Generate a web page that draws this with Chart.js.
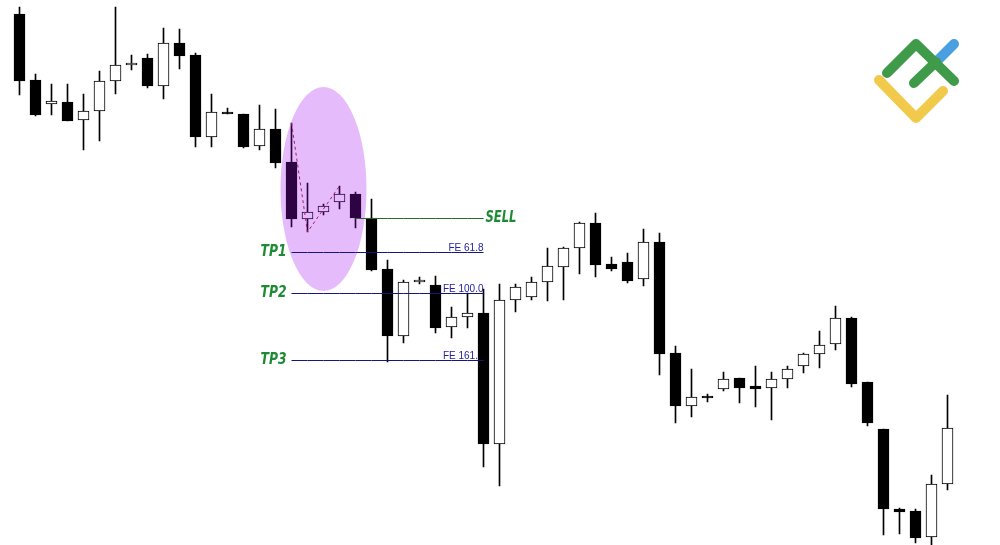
<!DOCTYPE html>
<html>
<head>
<meta charset="utf-8">
<script src="https://cdn.jsdelivr.net/npm/chart.js@4"></script>
<style>
  html, body { margin: 0; padding: 0; background: #fff; }
  #wrap { width: 1000px; height: 545px; position: relative; }
</style>
</head>
<body>
<div id="wrap"><canvas id="chart"></canvas></div>
<script>
// candle prices
const opens = [1.0986, 1.0920, 1.0896, 1.0898, 1.0880, 1.0889, 1.0919, 1.0935, 1.0942, 1.0914,
    1.0957, 1.0945, 1.0863, 1.0888, 1.0886, 1.0854, 1.0871, 1.0838, 1.0781, 1.0788,
    1.0798, 1.0806, 1.0782, 1.0731, 1.0664, 1.0718, 1.0715, 1.0673, 1.0683, 1.0687,
    1.0556, 1.0700, 1.0703, 1.0718, 1.0733, 1.0752, 1.0777, 1.0736, 1.0738, 1.0721,
    1.0758, 1.0647, 1.0594, 1.0604, 1.0611, 1.0622, 1.0614, 1.0612, 1.0621, 1.0634,
    1.0646, 1.0656, 1.0682, 1.0618, 1.0571, 1.0491, 1.0489, 1.0463, 1.0516];
const highs = [1.0993, 1.0926, 1.0916, 1.0916, 1.0906, 1.0929, 1.0993, 1.0945, 1.0946, 1.0972,
    1.0971, 1.0947, 1.0906, 1.0892, 1.0886, 1.0895, 1.0891, 1.0877, 1.0817, 1.0796,
    1.0814, 1.0808, 1.0801, 1.0740, 1.0720, 1.0723, 1.0724, 1.0693, 1.0707, 1.0711,
    1.0716, 1.0716, 1.0723, 1.0752, 1.0753, 1.0778, 1.0787, 1.0743, 1.0747, 1.0771,
    1.0767, 1.0654, 1.0631, 1.0606, 1.0628, 1.0622, 1.0634, 1.0628, 1.0634, 1.0647,
    1.0669, 1.0694, 1.0683, 1.0618, 1.0571, 1.0492, 1.0491, 1.0525, 1.0605];
const lows = [1.0905, 1.0884, 1.0885, 1.0879, 1.0850, 1.0859, 1.0906, 1.0930, 1.0912, 1.0901,
    1.0931, 1.0853, 1.0853, 1.0886, 1.0852, 1.0850, 1.0832, 1.0773, 1.0768, 1.0785,
    1.0791, 1.0772, 1.0729, 1.0638, 1.0657, 1.0716, 1.0667, 1.0662, 1.0672, 1.0533,
    1.0514, 1.0688, 1.0700, 1.0699, 1.0700, 1.0726, 1.0723, 1.0729, 1.0717, 1.0714,
    1.0625, 1.0577, 1.0583, 1.0598, 1.0609, 1.0597, 1.0593, 1.0580, 1.0612, 1.0627,
    1.0632, 1.0650, 1.0613, 1.0574, 1.0465, 1.0466, 1.0457, 1.0455, 1.0510];
const closes = [1.0919, 1.0885, 1.0899, 1.0879, 1.0889, 1.0919, 1.0935, 1.0937, 1.0914, 1.0957,
    1.0944, 1.0863, 1.0888, 1.0886, 1.0853, 1.0871, 1.0837, 1.0781, 1.0788, 1.0794,
    1.0806, 1.0782, 1.0730, 1.0664, 1.0718, 1.0720, 1.0672, 1.0683, 1.0687, 1.0556,
    1.0700, 1.0713, 1.0718, 1.0734, 1.0752, 1.0777, 1.0735, 1.0731, 1.0719, 1.0758,
    1.0646, 1.0594, 1.0603, 1.0602, 1.0621, 1.0612, 1.0611, 1.0621, 1.0631, 1.0646,
    1.0655, 1.0682, 1.0616, 1.0577, 1.0491, 1.0488, 1.0462, 1.0516, 1.0572];

// trade levels
const sellLevel = 1.07815;
const targetLevels = [1.07475, 1.07065, 1.06395];
const targetNames = ['TP1', 'TP2', 'TP3'];
const feNames = ['FE 61.8', 'FE 100.0', 'FE 161.8'];
const sellFrom = 21, levelsFrom = 17, levelsTo = 29;

// wave drawn as a dashed line
const waveIdx = [17, 18, 20];
const waveVals = [1.0877, 1.0768, 1.0814];

// highlighted pattern
const highlightIdx = 19;
const highlightLevel = 1.0811;

const labels = opens.map((_, i) => i);

function levelLine(value, from, to) {
    return labels.map(i => (i >= from && i <= to) ? value : null);
}

const waveData = labels.map(() => null);
waveIdx.forEach((idx, k) => waveData[idx] = waveVals[k]);

const overlay = {
    id: 'overlay',
    beforeDatasetsDraw(chart) {
        const ctx = chart.ctx;
        const x = chart.scales.x, y = chart.scales.y;
        ctx.save();
        ctx.fillStyle = '#2323a0';
        ctx.font = '10px "Liberation Sans", Arial, sans-serif';
        ctx.textAlign = 'right';
        ctx.textBaseline = 'alphabetic';
        targetLevels.forEach((v, i) => {
            ctx.fillText(feNames[i], x.getPixelForValue(levelsTo), y.getPixelForValue(v) - 2);
        });
        ctx.restore();
    },
    afterDatasetDraw(chart, args) {
        if (chart.data.datasets[args.index].label !== 'bodies') return;
        const ctx = chart.ctx;
        const cx = chart.scales.x.getPixelForValue(highlightIdx);
        const cy = chart.scales.y.getPixelForValue(highlightLevel);
        ctx.save();
        ctx.fillStyle = 'rgba(160, 10, 240, 0.28)';
        ctx.beginPath();
        ctx.ellipse(cx, cy, 43, 102, 0, 0, Math.PI * 2);
        ctx.fill();
        ctx.restore();
    },
    afterDatasetsDraw(chart) {
        const ctx = chart.ctx;
        const x = chart.scales.x, y = chart.scales.y;
        ctx.save();
        ctx.fillStyle = '#1f8a34';
        ctx.font = 'italic bold 15px "DejaVu Sans", sans-serif';
        ctx.textBaseline = 'middle';
        ctx.textAlign = 'left';
        ctx.fillText('SELL', x.getPixelForValue(levelsTo) + 2, y.getPixelForValue(sellLevel), 31);
        ctx.textAlign = 'right';
        targetLevels.forEach((v, i) => {
            ctx.fillText(targetNames[i], x.getPixelForValue(levelsFrom) - 5, y.getPixelForValue(v), 26);
        });

        // logo
        ctx.lineCap = 'round';
        ctx.lineJoin = 'round';
        ctx.lineWidth = 10;
        ctx.strokeStyle = '#f1c94b';
        ctx.beginPath();
        ctx.moveTo(879, 80); ctx.lineTo(916, 118); ctx.lineTo(943, 91);
        ctx.stroke();
        ctx.strokeStyle = '#4a9fe0';
        ctx.beginPath();
        ctx.moveTo(938, 60); ctx.lineTo(954, 44);
        ctx.stroke();
        ctx.strokeStyle = '#3f9a4a';
        ctx.beginPath();
        ctx.moveTo(887, 73); ctx.lineTo(916, 44); ctx.lineTo(954, 81);
        ctx.stroke();
        ctx.beginPath();
        ctx.moveTo(914, 83); ctx.lineTo(936, 62);
        ctx.stroke();
        ctx.restore();
    }
};

new Chart(document.getElementById('chart'), {
    type: 'bar',
    data: {
        labels: labels,
        datasets: [
            {
                label: 'wicks',
                data: lows.map((l, i) => [l, highs[i]]),
                backgroundColor: '#000',
                barThickness: 1,
                grouped: false,
                order: 6
            },
            {
                label: 'bodies',
                data: opens.map((o, i) => [o, closes[i]]),
                backgroundColor: opens.map((o, i) => closes[i] >= o ? '#fff' : '#000'),
                borderColor: '#000',
                borderWidth: 1,
                borderSkipped: false,
                barThickness: 11,
                grouped: false,
                order: 5
            },
            {
                type: 'line',
                label: 'sell',
                data: levelLine(sellLevel, sellFrom, levelsTo),
                borderColor: '#2a672a',
                borderWidth: 1,
                pointRadius: 0,
                order: 3
            },
            ...targetLevels.map((v, i) => ({
                type: 'line',
                label: targetNames[i],
                data: levelLine(v, levelsFrom, levelsTo),
                borderColor: '#16167a',
                borderWidth: 1,
                pointRadius: 0,
                order: 2
            })),
            {
                type: 'line',
                label: 'wave',
                data: waveData,
                borderColor: '#a02060',
                borderWidth: 1,
                borderDash: [3, 3],
                pointRadius: 0,
                spanGaps: true,
                order: 1
            }
        ]
    },
    options: {
        responsive: true,
        maintainAspectRatio: false,
        animation: false,
        devicePixelRatio: 1,
        layout: { padding: { left: 11.5, right: 44.5, top: 0, bottom: 0 } },
        plugins: { legend: { display: false }, tooltip: { enabled: false } },
        scales: {
            x: { display: false },
            y: { display: false, min: 1.0455, max: 1.1000 }
        }
    },
    plugins: [overlay]
});
</script>
</body>
</html>
